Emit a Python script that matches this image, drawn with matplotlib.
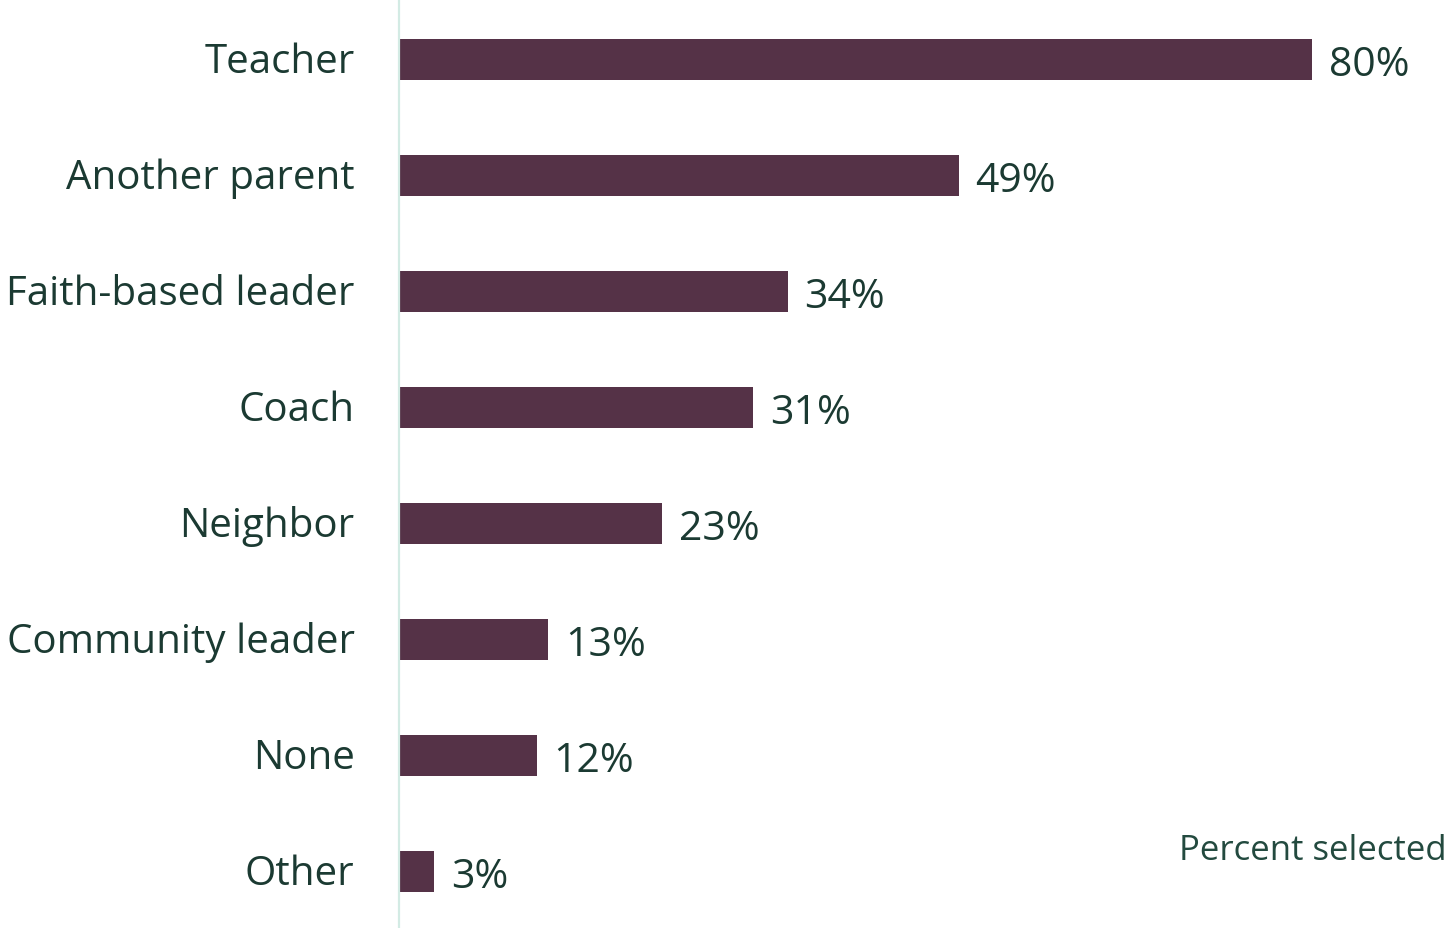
import matplotlib
matplotlib.use("Agg")
import matplotlib.pyplot as plt
from matplotlib.transforms import ScaledTranslation

categories = ["Teacher", "Another parent", "Faith-based leader", "Coach",
              "Neighbor", "Community leader", "None", "Other"]
values = [80, 49, 34, 31, 23, 13, 12, 3]
value_labels = ["80%", "49%", "34%", "31%", "23%", "13%", "12%", "3%"]
axis_note = "Percent selected"

BAR_COLOR = "#553247"
TEXT_COLOR = "#1b3a32"
NOTE_COLOR = "#234a3f"
SPINE_COLOR = "#d3ebe4"

plt.rcParams["font.family"] = ["Open Sans", "DejaVu Sans"]

W, H, DPI = 1451, 929, 100
fig = plt.figure(figsize=(W / DPI, H / DPI), dpi=DPI)
fig.patch.set_facecolor("white")

left_px = 399
ax = fig.add_axes([left_px / W, 0, (W - left_px) / W, 1])

ypos = list(range(len(categories)))
ax.barh(ypos, values, height=0.345, color=BAR_COLOR, edgecolor="none")

px_per_unit = 11.4
ax.set_xlim(-1 / px_per_unit, (W - left_px - 1) / px_per_unit)
ax.set_ylim((929 - 60.5) / 116, -60.5 / 116)

for s in ("top", "right", "bottom"):
    ax.spines[s].set_visible(False)
ax.spines["left"].set_color(SPINE_COLOR)
ax.spines["left"].set_linewidth(1.6)
ax.spines["left"].set_position(("data", -1 / px_per_unit))

ax.set_xticks([])
ax.set_yticks(ypos)
ax.set_yticklabels(categories, fontsize=29, color=TEXT_COLOR)
ax.tick_params(axis="y", length=0, pad=32)
# nudge category labels up slightly
lift = ScaledTranslation(0, 3 / DPI, fig.dpi_scale_trans)
for t in ax.get_yticklabels():
    t.set_transform(t.get_transform() + lift)

for y, v, lab in zip(ypos, values, value_labels):
    ax.annotate(lab, xy=(v, y), xytext=(12, -3.5), textcoords="offset points",
                ha="left", va="center", fontsize=29.5, color=TEXT_COLOR)

fig.text(1447 / W, 1 - 851 / H, axis_note, ha="right", va="center",
         fontsize=25, color=NOTE_COLOR)

fig.savefig("out.png", dpi=DPI, facecolor="white")
